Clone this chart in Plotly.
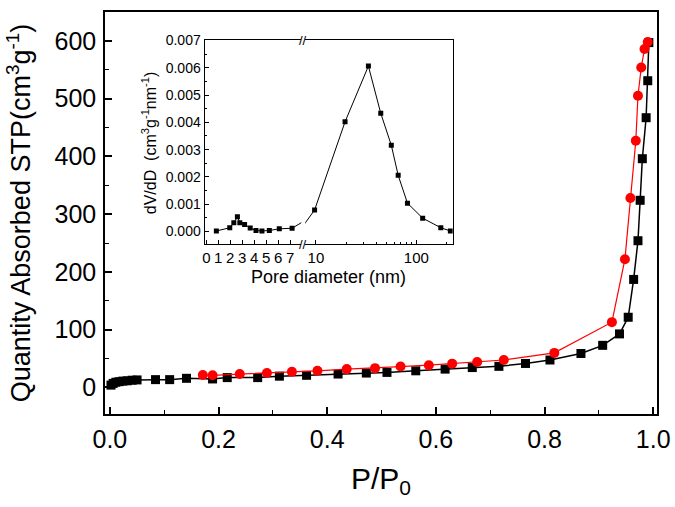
import plotly.graph_objects as go

# ---- main isotherm data (P/P0, quantity adsorbed) ----
ads_x = [0.002, 0.006, 0.011, 0.017, 0.024, 0.032, 0.041, 0.050, 0.084, 0.110, 0.141, 0.189,
         0.216, 0.272, 0.312, 0.362, 0.420, 0.472, 0.510, 0.563, 0.617, 0.667, 0.716, 0.765,
         0.810, 0.867, 0.907, 0.938, 0.954, 0.964, 0.972, 0.976, 0.980, 0.987, 0.990, 0.992]
ads_y = [4, 7, 9, 10, 11, 11.5, 12.5, 13, 13.5, 13.5, 15.8, 14.7,
         17, 17, 19.5, 21, 23.2, 24.9, 26, 28.8, 31.7, 34.4, 36.5, 41.5,
         47.5, 58.8, 72.9, 92.7, 121.5, 187, 254, 324, 396, 467, 531, 597]

des_x = [0.171, 0.189, 0.239, 0.289, 0.335, 0.382, 0.436, 0.488, 0.535, 0.587, 0.630, 0.676,
         0.725, 0.818, 0.924, 0.948, 0.958, 0.968, 0.972, 0.978, 0.984, 0.990]
des_y = [21.5, 21, 23.2, 25, 27.1, 28.8, 31.7, 33.4, 36.1, 38.5, 41.2, 44.1,
         47.5, 59.8, 113, 222, 328, 427, 505, 554, 586, 598]

# ---- inset pore size distribution ----
pore_small_x = [0.84, 1.96, 2.3, 2.6, 2.8, 3.2, 3.67, 4.15, 4.65, 5.27, 6.1, 7.17]
pore_small_y = [0.00002, 0.00014, 0.00032, 0.00054, 0.00032, 0.00026, 0.00013, 0.00004,
                0.00002, 0.00004, 0.0001, 0.00012]
pore_large_x = [9.7, 19.5, 33.3, 44.2, 56.3, 65.9, 81.5, 115.5, 175, 218]
pore_large_y = [0.00079, 0.00402, 0.00606, 0.00433, 0.00316, 0.00206, 0.00104, 0.00049,
                0.00014, 0.00002]

small_ticks = [0, 1, 2, 3, 4, 5, 6, 7]
large_ticks = [10, 100]
large_minor = [20, 30, 40, 50, 60, 70, 80, 90, 200]
inset_yticks = [0, 0.001, 0.002, 0.003, 0.004, 0.005, 0.006, 0.007]

FONT = "Liberation Sans, Arial, sans-serif"

fig = go.Figure()

fig.add_trace(go.Scatter(x=ads_x, y=ads_y, mode="lines+markers",
                         line=dict(color="black", width=1.5),
                         marker=dict(symbol="square", size=9, color="black"),
                         xaxis="x", yaxis="y", showlegend=False))
fig.add_trace(go.Scatter(x=des_x, y=des_y, mode="lines+markers",
                         line=dict(color="red", width=1.2),
                         marker=dict(symbol="circle", size=10, color="red"),
                         xaxis="x", yaxis="y", showlegend=False))

# inset: left (linear) part, with connector line toward the first large point
fig.add_trace(go.Scatter(x=pore_small_x + [pore_large_x[0]], y=pore_small_y + [pore_large_y[0]],
                         mode="lines", line=dict(color="black", width=1),
                         xaxis="x2", yaxis="y2", showlegend=False))
fig.add_trace(go.Scatter(x=pore_small_x, y=pore_small_y, mode="markers",
                         marker=dict(symbol="square", size=5, color="black"),
                         xaxis="x2", yaxis="y2", showlegend=False))
# inset: right (log) part
fig.add_trace(go.Scatter(x=[pore_small_x[-1]] + pore_large_x, y=[pore_small_y[-1]] + pore_large_y,
                         mode="lines", line=dict(color="black", width=1),
                         xaxis="x3", yaxis="y3", showlegend=False))
fig.add_trace(go.Scatter(x=pore_large_x, y=pore_large_y, mode="markers",
                         marker=dict(symbol="square", size=5, color="black"),
                         xaxis="x3", yaxis="y3", showlegend=False))

W, H = 675, 507
L, R, T, B = 105, 16, 4, 93
pw, ph = W - L - R, H - T - B

def px(x):
    return (x - L) / pw

def py(y):
    return (H - B - y) / ph

ix0, ibrk, ix1 = 205, 304, 454
iy0, iy1 = 33, 241
inset_ydom = [py(iy1), py(iy0)]
yr = [-0.00047, 0.007]

axis_common = dict(showline=True, linecolor="black", linewidth=1.5, ticks="inside",
                   tickcolor="black", showgrid=False, zeroline=False)

fig.update_layout(
    width=W, height=H,
    margin=dict(l=L, r=R, t=T, b=B),
    paper_bgcolor="white", plot_bgcolor="white",
    font=dict(family=FONT, color="black"),
    xaxis=dict(**axis_common, mirror=True, range=[-0.009, 1.007], dtick=0.2, tick0=0,
               tickformat=".1f", ticklen=7, tickwidth=1.5,
               minor=dict(ticks="inside", dtick=0.1, ticklen=4, tickcolor="black", tickwidth=1.2),
               tickfont=dict(size=25), ticklabelstandoff=2,
               title=dict(text="P/P<sub>0</sub>", font=dict(size=30), standoff=16)),
    yaxis=dict(**axis_common, mirror=True, range=[-46, 650], dtick=100, tick0=0,
               ticklen=7, tickwidth=1.5,
               minor=dict(ticks="inside", dtick=50, ticklen=4, tickcolor="black", tickwidth=1.2),
               tickfont=dict(size=25), ticklabelstandoff=2,
               title=dict(text="Quantity Absorbed STP(cm<sup>3</sup>g<sup>-1</sup>)",
                          font=dict(size=27), standoff=16)),
    xaxis2=dict(showline=True, linecolor="black", linewidth=1.2, mirror=True, ticks="inside",
                tickcolor="black", ticklen=4, showgrid=False, zeroline=False,
                domain=[px(ix0), px(ibrk - 2)], anchor="y2",
                range=[-0.14, 7.94], tickmode="array", tickvals=small_ticks,
                ticktext=[str(v) for v in small_ticks], tickfont=dict(size=15)),
    yaxis2=dict(showline=True, linecolor="black", linewidth=1.2, ticks="inside",
                tickcolor="black", ticklen=4, showgrid=False, zeroline=False,
                domain=inset_ydom, anchor="x2", range=yr, tickmode="array",
                tickvals=inset_yticks, tickformat=".3f", tickfont=dict(size=14),
                minor=dict(ticks="inside", dtick=0.0005, tick0=0, ticklen=2, tickcolor="black")),
    xaxis3=dict(type="log", showline=True, linecolor="black", linewidth=1.2, mirror=True,
                ticks="inside", tickcolor="black", ticklen=4, showgrid=False, zeroline=False,
                domain=[px(ibrk + 2), px(ix1)], anchor="y3",
                range=[0.894, 2.362], tickmode="array", tickvals=large_ticks,
                ticktext=[str(v) for v in large_ticks], tickfont=dict(size=15),
                minor=dict(ticks="inside", tickmode="array", tickvals=large_minor,
                           ticklen=2, tickcolor="black")),
    yaxis3=dict(showline=True, linecolor="black", linewidth=1.2, side="right", ticks="",
                showticklabels=False, showgrid=False, zeroline=False,
                domain=inset_ydom, anchor="x3", range=yr),
)

# inset axis titles
fig.add_annotation(text="Pore diameter (nm)", xref="paper", yref="paper",
                   x=px((ix0 + ix1) / 2), y=py(274), showarrow=False,
                   font=dict(size=18, family=FONT), xanchor="center", yanchor="middle")
fig.add_annotation(text="dV/dD  (cm<sup>3</sup>g<sup>-1</sup>nm<sup>-1</sup>)", xref="paper", yref="paper",
                   x=px(150), y=py(137), showarrow=False, textangle=-90,
                   font=dict(size=16, family=FONT), xanchor="center", yanchor="middle")
# axis break marks
for yy in (iy0, iy1):
    fig.add_annotation(text="//", xref="paper", yref="paper", x=px(ibrk), y=py(yy),
                       showarrow=False, font=dict(size=13, family=FONT),
                       xanchor="center", yanchor="middle")

fig.write_html("out.html", config={"displayModeBar": False},
               post_script="document.body.style.margin='0';")
